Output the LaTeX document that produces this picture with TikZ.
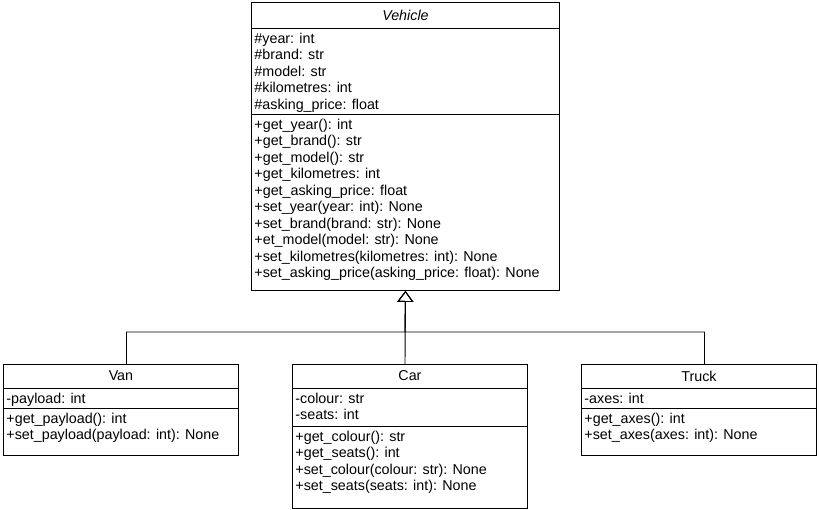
\documentclass[tikz,border=0pt]{standalone}
\usepackage{fontspec}
\setmainfont{Liberation Sans}
\usetikzlibrary{calc,positioning,arrows.meta}

\tikzset{
  classbox/.style={draw, rectangle, anchor=north west, inner sep=0pt,
    minimum width=235, minimum height=91},
  classname/.style={inner sep=0pt, font=\fontsize{14.3}{16.5}\selectfont},
  members/.style={anchor=north west, align=left, inner sep=3pt,
    font=\fontsize{14.3}{16.5}\selectfont},
  inherit/.style={-{Triangle[open,length=11,width=16]}},
}

\begin{document}
\begin{tikzpicture}[x=1pt,y=-1pt,line width=0.9pt]
\useasboundingbox (0,0) rectangle (819,509);
% define class Vehicle
\node[classbox, minimum width=308, minimum height=288] (vehicle) at (251,2) {};
\coordinate (vehicle-s1) at ($(vehicle.north west)+(0,26)$);
\coordinate (vehicle-s2) at ($(vehicle.north west)+(0,112)$);
\draw (vehicle-s1) -- (vehicle-s1 -| vehicle.east);
\draw (vehicle-s2) -- (vehicle-s2 -| vehicle.east);
\node[classname] (vehicle-name) at ($(vehicle.north)!0.5!(vehicle-s1 -| vehicle.north)$) {\textit{Vehicle}};
\node[members] (vehicle-attrs) at (vehicle-s1) {\strut\#year: int\\
  \#brand: str\\
  \#model: str\\
  \#kilometres: int\\
  \#asking\_price: float};
\node[members] (vehicle-ops) at (vehicle-s2) {\strut+get\_year(): int\\
  +get\_brand(): str\\
  +get\_model(): str\\
  +get\_kilometres: int\\
  +get\_asking\_price: float\\
  +set\_year(year: int): None\\
  +set\_brand(brand: str): None\\
  +et\_model(model: str): None\\
  +set\_kilometres(kilometres: int): None\\
  +set\_asking\_price(asking\_price: float): None};
% define class Van
\node[classbox] (van) at (3,364) {};
\coordinate (van-s1) at ($(van.north west)+(0,24)$);
\coordinate (van-s2) at ($(van.north west)+(0,44)$);
\draw (van-s1) -- (van-s1 -| van.east);
\draw (van-s2) -- (van-s2 -| van.east);
\node[classname] (van-name) at ($(van.north)!0.5!(van-s1 -| van.north)$) {Van};
\node[members] (van-attrs) at (van-s1) {\strut-payload: int};
\node[members] (van-ops) at (van-s2) {\strut+get\_payload(): int\\
  +set\_payload(payload: int): None};
% define class Car
\node[classbox, minimum height=144] (car) at (292,364) {};
\coordinate (car-s1) at ($(car.north west)+(0,24)$);
\coordinate (car-s2) at ($(car.north west)+(0,62)$);
\draw (car-s1) -- (car-s1 -| car.east);
\draw (car-s2) -- (car-s2 -| car.east);
\node[classname] (car-name) at ($(car.north)!0.5!(car-s1 -| car.north)$) {Car};
\node[members] (car-attrs) at (car-s1) {\strut-colour: str\\
  -seats: int};
\node[members] (car-ops) at (car-s2) {\strut+get\_colour(): str\\
  +get\_seats(): int\\
  +set\_colour(colour: str): None\\
  +set\_seats(seats: int): None};
% define class Truck
\node[classbox] (truck) at (581,364) {};
\coordinate (truck-s1) at ($(truck.north west)+(0,24)$);
\coordinate (truck-s2) at ($(truck.north west)+(0,44)$);
\draw (truck-s1) -- (truck-s1 -| truck.east);
\draw (truck-s2) -- (truck-s2 -| truck.east);
\node[classname] (truck-name) at ($(truck.north)!0.5!(truck-s1 -| truck.north)$) {Truck};
\node[members] (truck-attrs) at (truck-s1) {\strut-axes: int};
\node[members] (truck-ops) at (truck-s2) {\strut+get\_axes(): int\\
  +set\_axes(axes: int): None};
% draw generalisations
\coordinate (bus) at (405,332);
\draw[inherit] ([xshift=5.5]van.north) |- (bus) -- (vehicle.south);
\draw[inherit] (car.north -| bus) -- (vehicle.south);
\draw[inherit] ([xshift=5.5]truck.north) |- (bus) -- (vehicle.south);
\end{tikzpicture}
\end{document}
